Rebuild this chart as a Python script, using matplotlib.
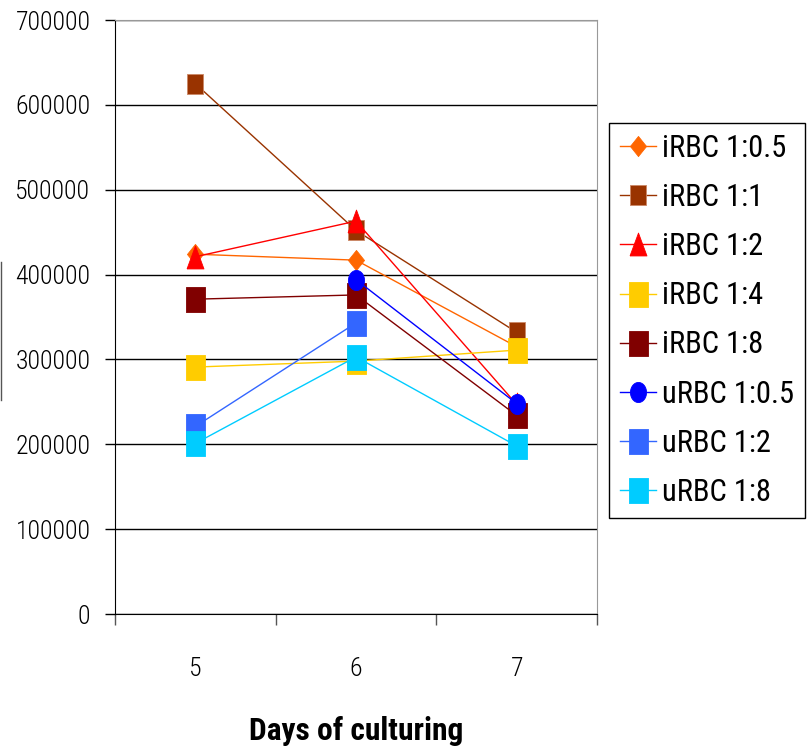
import matplotlib
matplotlib.use("Agg")
import os
import matplotlib.pyplot as plt
from matplotlib import font_manager as fm
from matplotlib.lines import Line2D
import numpy as np

days = [5, 6, 7]
day_labels = ["5", "6", "7"]

series_names = ["iRBC 1:0.5", "iRBC 1:1", "iRBC 1:2", "iRBC 1:4",
                "iRBC 1:8", "uRBC 1:0.5", "uRBC 1:2", "uRBC 1:8"]
irbc_05 = [424000, 417000, 315000]
irbc_1 = [625000, 452000, 332000]
irbc_2 = [421000, 463000, 247000]
irbc_4 = [291000, 298000, 311000]
irbc_8 = [371000, 376000, 234000]
urbc_05 = [np.nan, 394000, 248000]
urbc_2 = [221000, 343000, np.nan]
urbc_8 = [201000, 303000, 198000]
series_values = [irbc_05, irbc_1, irbc_2, irbc_4, irbc_8, urbc_05, urbc_2, urbc_8]

colors = ["#FF6600", "#993300", "#FF0000", "#FFCC00",
          "#800000", "#0000FF", "#3366FF", "#00CCFF"]


def find_font(patterns):
    files = [f.fname for f in fm.fontManager.ttflist]
    for p in patterns:
        for f in files:
            if os.path.basename(f).lower().replace("_", "").replace(" ", "") == p:
                return f
    return None


narrow = find_font(["liberationsansnarrow-regular.ttf", "robotocondensed-regular.ttf",
                    "opensanscondensed-regular.ttf", "dejavusanscondensed.ttf"])
narrow_light = find_font(["robotocondensed-light.ttf", "opensanscondensed-light.ttf"]) or narrow
narrow_bold = find_font(["liberationsansnarrow-bold.ttf", "robotocondensed-bold.ttf",
                         "opensanscondensed-bold.ttf", "dejavusanscondensed-bold.ttf"])


def fprop(path, size, bold=False):
    if path:
        return fm.FontProperties(fname=path, size=size)
    return fm.FontProperties(family=["Liberation Sans", "DejaVu Sans"], size=size * 0.85,
                             weight="bold" if bold else "normal")


tick_fp = fprop(narrow_light, 18.5)
leg_fp = fprop(narrow, 22)
lab_fp = fprop(narrow_bold, 22.7, bold=True)

# Excel markers look stretched vertically in the source picture
rect = [(-0.76, -1), (0.76, -1), (0.76, 1), (-0.76, 1), (-0.76, -1)]
diamond = [(0, -1), (0.8, 0), (0, 1), (-0.8, 0), (0, -1)]
tri = [(-0.74, -1), (0.74, -1), (0, 1), (-0.74, -1)]
t = np.linspace(0, 2 * np.pi, 40)
ellipse = list(zip(0.8 * np.cos(t), np.sin(t)))

markers = [diamond, rect, tri, rect, rect, ellipse, rect, rect]
msizes = [14.5, 14.5, 16.5, 18, 18, 14.5, 18, 18]
edges = ["#FF6600", "#CC8866", "#FF0000", "#FFCC00",
         "#800000", "#0000FF", "#3366FF", "#00CCFF"]

fig = plt.figure(figsize=(8.12, 7.49), dpi=100)
ax = fig.add_axes([115 / 812, 135 / 749, 482 / 812, 594 / 749])

for name, vals, c, m, ms, ec in zip(series_names, series_values, colors, markers, msizes, edges):
    x = np.array(days, dtype=float)
    y = np.array(vals, dtype=float)
    ok = ~np.isnan(y)
    ax.plot(x[ok], y[ok], color=c, lw=1.0, marker=m, markersize=ms,
            markerfacecolor=c, markeredgecolor=ec, markeredgewidth=0.6, label=name)

ax.set_xlim(4.5, 7.5)
ax.set_ylim(0, 700000)
ax.set_yticks(np.arange(0, 700001, 100000))
ax.set_yticklabels([f"{v:d}" for v in range(0, 700001, 100000)])
ax.set_xticks(days)
ax.set_xticklabels(day_labels)
ax.set_xticks([4.5, 5.5, 6.5, 7.5], minor=True)
ax.tick_params(axis="x", which="major", length=0, pad=31)
ax.tick_params(axis="x", which="minor", length=8, width=1, direction="out", color="#555555")
ax.tick_params(axis="y", length=7.2, width=1, direction="out", pad=10.5)
for lbl in ax.get_xticklabels() + ax.get_yticklabels():
    lbl.set_fontproperties(tick_fp)

ax.yaxis.grid(True, color="black", lw=1)
ax.set_axisbelow(True)
for s in ["top", "right"]:
    ax.spines[s].set_color("#999999")
for s in ["left", "bottom"]:
    ax.spines[s].set_color("black")

ax.set_xlabel("Days of culturing", fontproperties=lab_fp, labelpad=25)

leg = ax.legend(loc="upper left", bbox_to_anchor=(609 / 812, 1 - 123 / 749),
                bbox_transform=fig.transFigure, borderaxespad=0, prop=leg_fp,
                frameon=True, fancybox=False, edgecolor="black", framealpha=1,
                handlelength=1.2, handletextpad=0.2, labelspacing=0.66,
                borderpad=0.35)
leg.get_frame().set_linewidth(1)

# remains of the cut-off y label box at the left edge
fig.add_artist(Line2D([1 / 812, 1 / 812], [1 - 262 / 749, 1 - 400 / 749],
                      transform=fig.transFigure, color="#555555", lw=1))

fig.savefig("out.png", dpi=100)
